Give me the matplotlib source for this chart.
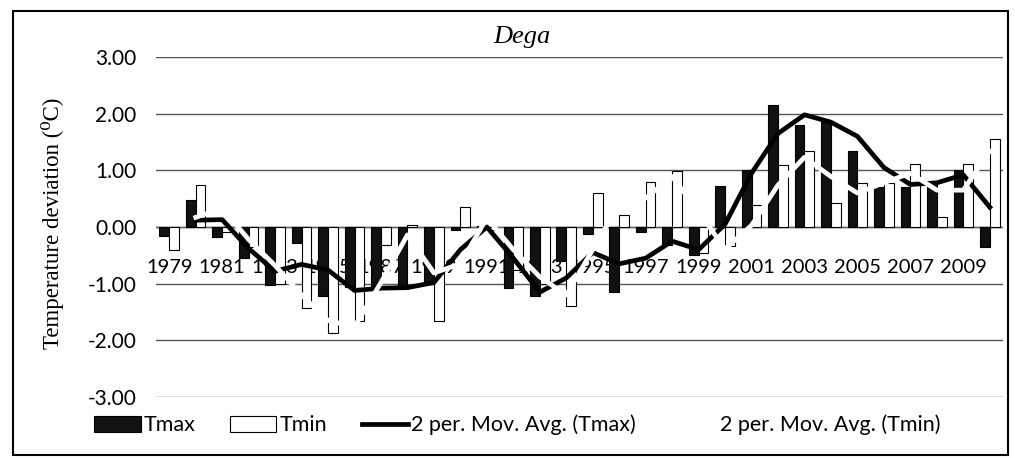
import numpy as np
import matplotlib
matplotlib.use("Agg")
import matplotlib.pyplot as plt
from matplotlib.patches import Patch, Rectangle
from matplotlib.lines import Line2D

# --- data (Dega) ---
years = list(range(1979, 2011))
tmax = [-0.16, 0.48, -0.18, -0.55, -1.03, -0.28, -1.22, -1.05, -1.08, -1.07,
        -1.00, -0.05, 0.02, -1.07, -1.22, -0.60, -0.13, -1.15, -0.09, -0.32,
        -0.50, 0.73, 1.00, 2.15, 1.80, 1.85, 1.35, 0.71, 0.71, 0.80,
        1.00, -0.35]
tmin = [-0.41, 0.74, -0.08, -0.35, -1.00, -1.43, -1.87, -1.65, -0.31, 0.03,
        -1.65, 0.36, -0.05, -0.75, -1.00, -1.40, 0.60, 0.22, 0.80, 0.98,
        -0.45, -0.33, 0.38, 1.10, 1.35, 0.42, 0.78, 0.78, 1.12, 0.18,
        1.12, 1.55]
# 2-period moving averages as drawn (1980..2010)
ma_tmax = [0.12, 0.13, -0.38, -0.78, -0.66, -0.76, -1.12, -1.08, -1.07, -0.98,
           -0.40, 0.00, -0.55, -1.15, -0.90, -0.45, -0.65, -0.55, -0.25, -0.40,
           0.05, 0.95, 1.65, 1.98, 1.85, 1.60, 1.05, 0.75, 0.78, 0.92,
           0.35]
ma_tmin = [0.17, 0.33, -0.22, -0.68, -1.20, -1.65, -1.76, -0.98, -0.14, -0.81,
           -0.65, 0.16, -0.40, -0.88, -1.20, -0.40, 0.41, 0.51, 0.89, 0.27,
           -0.39, 0.03, 0.74, 1.23, 0.89, 0.60, 0.78, 0.95, 0.65, 0.65,
           1.34]
yticks = [3, 2, 1, 0, -1, -2, -3]

SANS = ["Lato", "DejaVu Sans"]
SERIF = ["Liberation Serif", "DejaVu Serif"]

fig = plt.figure(figsize=(10.15, 4.58), dpi=100)
ax = fig.add_axes([156 / 1015, 1 - 397 / 458, 847 / 1015, 340 / 458])

x = np.arange(len(years))
w = 0.37
ax.bar(x - w / 2, tmax, width=w, color="#111111", edgecolor="black",
       linewidth=0.8, zorder=2)
ax.bar(x + w / 2, tmin, width=w, color="white", edgecolor="black",
       linewidth=0.8, zorder=2)

ax.plot(x[1:], ma_tmax, color="black", lw=3.4, zorder=3,
        solid_joinstyle="round")
ax.plot(x[1:], ma_tmin, color="white", lw=3.4, zorder=4,
        solid_joinstyle="round")

ax.set_xlim(-0.5, len(years) - 0.5)
ax.set_ylim(-3, 3)
ax.set_yticks(yticks)
ax.set_yticklabels([f"{v:.2f}" for v in yticks], family=SANS, fontsize=15)
ax.tick_params(axis="y", length=0, pad=14)
ax.set_xticks([])
for s in ax.spines.values():
    s.set_visible(False)
ax.grid(axis="y", color="#555555", lw=1)
ax.set_axisbelow(True)
ax.axhline(0, color="#666666", lw=1, zorder=1)

# category labels, every second year, sitting below the zero line
for i, yr in enumerate(years):
    if i % 2 == 0:
        ax.text(i, -0.72, str(yr), ha="center", va="center",
                family=SANS, fontsize=14.5, zorder=1)

fig.text(53 / 1015, 1 - 223 / 458, "Temperature deviation (⁰C)",
         rotation=90, ha="center", va="center", family=SERIF, fontsize=16.5)
fig.text(522 / 1015, 1 - 37 / 458, "Dega", ha="center", va="center",
         family=SERIF, style="italic", fontsize=19)

handles = [
    Patch(facecolor="#111111", edgecolor="black", lw=0.8),
    Patch(facecolor="white", edgecolor="black", lw=0.8),
    Line2D([], [], color="black", lw=3.4),
    Line2D([], [], color="white", lw=3.4),
]
labels = ["Tmax", "Tmin", "2 per. Mov. Avg. (Tmax)", "2 per. Mov. Avg. (Tmin)"]
fig.legend(handles, labels, loc="center left",
           bbox_to_anchor=(75 / 1015, 1 - 425 / 458), ncol=4, frameon=False,
           prop={"family": SANS, "size": 15.5}, handlelength=2.15,
           handleheight=0.75, handletextpad=0.15, columnspacing=1.6)

fig.add_artist(Rectangle((13 / 1015, 1 - 455 / 458), 995 / 1015, 444 / 458,
                         transform=fig.transFigure, fill=False,
                         edgecolor="black", lw=1.5))

fig.savefig("out.png", dpi=100)
